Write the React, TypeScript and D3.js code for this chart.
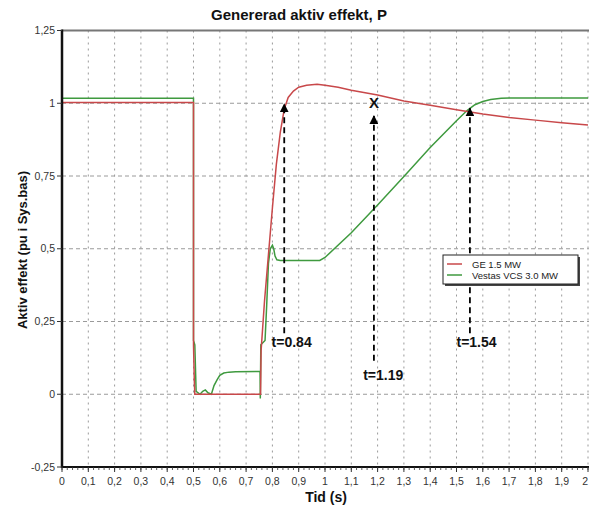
import React from "react";
import * as d3 from "d3";

const W = 589;
const H = 507;

const title = "Genererad aktiv effekt, P";
const xLabel = "Tid (s)";
const yLabel = "Aktiv effekt (pu i Sys.bas)";

const xTicks = [0, 0.1, 0.2, 0.3, 0.4, 0.5, 0.6, 0.7, 0.8, 0.9, 1, 1.1, 1.2, 1.3, 1.4, 1.5, 1.6, 1.7, 1.8, 1.9, 2];
const yTicks = [-0.25, 0, 0.25, 0.5, 0.75, 1, 1.25];

const seriesNames = ["GE 1.5 MW", "Vestas VCS 3.0 MW"];
const seriesColors = ["#c8484a", "#3f9a3f"];

const geT = [0, 0.5, 0.5, 0.503, 0.505, 0.755, 0.757, 0.77, 0.785, 0.8, 0.815, 0.83, 0.845, 0.86, 0.88, 0.9, 0.93, 0.97, 1.0, 1.05, 1.1, 1.2, 1.3, 1.4, 1.5, 1.6, 1.7, 1.8, 1.9, 2.0];
const geV = [1.003, 1.003, 0.17, 0.05, 0, 0, 0.15, 0.32, 0.48, 0.64, 0.79, 0.9, 0.98, 1.02, 1.042, 1.055, 1.062, 1.065, 1.062, 1.055, 1.045, 1.028, 1.008, 0.993, 0.978, 0.963, 0.951, 0.942, 0.933, 0.925];

const vestasT = [0, 0.5, 0.5, 0.505, 0.51, 0.525, 0.535, 0.545, 0.555, 0.568, 0.578, 0.59, 0.6, 0.615, 0.635, 0.66, 0.753, 0.754, 0.756, 0.772, 0.778, 0.785, 0.792, 0.8, 0.805, 0.81, 0.817, 0.83, 0.98, 1.0, 1.1, 1.2, 1.3, 1.4, 1.5, 1.54, 1.57, 1.6, 1.63, 1.67, 1.7, 2.0];
const vestasV = [1.017, 1.017, 0.185, 0.17, 0.01, 0.0, 0.01, 0.015, 0.005, 0.0, 0.03, 0.05, 0.065, 0.073, 0.076, 0.077, 0.078, -0.015, 0.17, 0.185, 0.3, 0.45, 0.5, 0.512, 0.5, 0.475, 0.462, 0.46, 0.46, 0.47, 0.555, 0.65, 0.748, 0.848, 0.94, 0.975, 0.995, 1.006, 1.013, 1.017, 1.018, 1.018];

const arrowT = [0.845, 1.186, 1.551];
const arrowFrom = [0.21, 0.115, 0.21];
const arrowTo = [1.0, 0.96, 0.986];
const arrowLabels = ["t=0.84", "t=1.19", "t=1.54"];
const arrowLabelT = [0.797, 1.145, 1.5];
const arrowLabelV = [0.162, 0.05, 0.162];
const markT = 1.186;
const markV = 1.0;

const fmt = (v: number) => String(v).replace(".", ",");

export default function App() {
  const x = d3.scaleLinear().domain([0, 2]).range([62, 588]);
  const y = d3.scaleLinear().domain([-0.25, 1.25]).range([467, 30.5]);

  const line = d3
    .line<[number, number]>()
    .x((d) => x(d[0]))
    .y((d) => y(d[1]))
    .curve(d3.curveLinear);

  const geData: [number, number][] = geT.map((t, i) => [t, geV[i]]);
  const vestasData: [number, number][] = vestasT.map((t, i) => [t, vestasV[i]]);

  const minor = d3.range(0, 2.0001, 0.02);
  const font = "'Liberation Sans', Arial, sans-serif";

  return (
    <svg
      width={W}
      height={H}
      style={{ position: "fixed", left: 0, top: 0, background: "#fff" }}
      fontFamily={font}
    >
      <defs>
        <marker id="ah" viewBox="0 0 10 10" refX="9" refY="5" markerWidth="5" markerHeight="5" orient="auto">
          <path d="M0,0 L10,5 L0,10 z" fill="#000" />
        </marker>
      </defs>
      <rect x={0} y={0} width={W} height={H} fill="#fff" />

      <text x={299} y={20} textAnchor="middle" fontSize={15} fontWeight="bold" fill="#111">
        {title}
      </text>

      {/* vertical grid */}
      {xTicks.filter((t) => t > 0).map((t) => (
        <line key={"gx" + t} x1={x(t)} x2={x(t)} y1={y(1.25)} y2={y(-0.25)} stroke="#9a9a9a" strokeWidth={1} strokeDasharray="2,4" />
      ))}
      {/* horizontal grid */}
      {yTicks.filter((v) => v > -0.25 && v < 1.25).map((v) => (
        <line key={"gy" + v} x1={x(0)} x2={W} y1={y(v)} y2={y(v)} stroke="#9a9a9a" strokeWidth={1} strokeDasharray="4,3" />
      ))}
      {/* top border */}
      <line x1={x(0)} x2={W} y1={y(1.25)} y2={y(1.25)} stroke="#777" strokeWidth={2} />

      {/* series */}
      <path d={line(vestasData) || ""} fill="none" stroke={seriesColors[1]} strokeWidth={1.5} />
      <path d={line(geData) || ""} fill="none" stroke={seriesColors[0]} strokeWidth={1.5} />

      {/* axes */}
      <line x1={x(0)} x2={x(0)} y1={y(1.25) - 1} y2={y(-0.25) + 1} stroke="#111" strokeWidth={2.5} />
      <line x1={x(0)} x2={W} y1={y(-0.25)} y2={y(-0.25)} stroke="#111" strokeWidth={2} />
      {minor.map((t) => (
        <line key={"mt" + t} x1={x(t)} x2={x(t)} y1={y(-0.25)} y2={y(-0.25) + 3} stroke="#333" strokeWidth={0.8} />
      ))}
      {xTicks.map((t, i) => (
        <g key={"xt" + t}>
          <line x1={x(t)} x2={x(t)} y1={y(-0.25)} y2={y(-0.25) + 5} stroke="#333" strokeWidth={1} />
          <text
            x={i === xTicks.length - 1 ? W - 1 : x(t)}
            y={485}
            textAnchor={i === xTicks.length - 1 ? "end" : "middle"}
            fontSize={10.5}
            fill="#333"
          >
            {fmt(t)}
          </text>
        </g>
      ))}
      {yTicks.map((v) => (
        <g key={"yt" + v}>
          <line x1={x(0) - 5} x2={x(0)} y1={y(v)} y2={y(v)} stroke="#333" strokeWidth={1} />
          <text x={55} y={y(v) + 3.5} textAnchor="end" fontSize={10.5} fill="#333">
            {fmt(v)}
          </text>
        </g>
      ))}

      <text x={326} y={502} textAnchor="middle" fontSize={14} fontWeight="bold" fill="#111">
        {xLabel}
      </text>
      <text
        transform={`translate(27,250) rotate(-90)`}
        textAnchor="middle"
        fontSize={13}
        fontWeight="bold"
        fill="#111"
      >
        {yLabel}
      </text>

      {/* annotations */}
      {arrowT.map((t, i) => (
        <g key={"ar" + i}>
          <line
            x1={x(t)}
            x2={x(t)}
            y1={y(arrowFrom[i])}
            y2={y(arrowTo[i]) + 1}
            stroke="#000"
            strokeWidth={1.8}
            strokeDasharray="6,4"
            markerEnd="url(#ah)"
          />
          <text x={x(arrowLabelT[i])} y={y(arrowLabelV[i])} fontSize={14} fontWeight="bold" fill="#111">
            {arrowLabels[i]}
          </text>
        </g>
      ))}
      <text x={x(markT)} y={y(markV) + 5} textAnchor="middle" fontSize={15} fontWeight="bold" fill="#111">
        X
      </text>

      {/* legend */}
      <rect x={445} y={257} width={135} height={29} fill="#444" />
      <rect x={443} y={255} width={135} height={29} fill="#fff" stroke="#222" strokeWidth={1} />
      {seriesNames.map((n, i) => (
        <g key={"lg" + i}>
          <line x1={447} x2={462} y1={264 + i * 11} y2={264 + i * 11} stroke={seriesColors[i]} strokeWidth={1.5} />
          <text x={472} y={267.5 + i * 11} fontSize={9.5} fill="#222">
            {n}
          </text>
        </g>
      ))}
    </svg>
  );
}
